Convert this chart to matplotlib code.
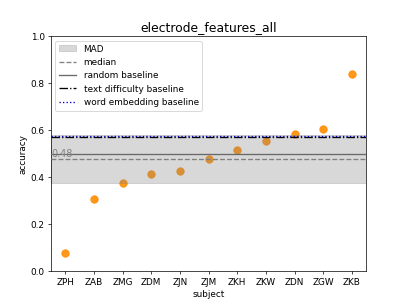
import numpy as np
import matplotlib
matplotlib.use('Agg')
from matplotlib import pyplot as plt

subjects = ['ZPH', 'ZAB', 'ZMG', 'ZDM', 'ZJN', 'ZJM', 'ZKH', 'ZKW', 'ZDN', 'ZGW', 'ZKB']
accuracy = [0.077, 0.308, 0.376, 0.416, 0.427, 0.478, 0.515, 0.556, 0.583, 0.606, 0.838]

random_baseline = 0.5
text_difficulty_baseline = 0.572
word_embedding_baseline = 0.578

acc = np.array(accuracy)
median = np.median(acc)
mad = np.median(np.abs(acc - median))

fig = plt.figure(figsize=(6.4, 4.8), dpi=407 / 6.4)
ax = fig.add_subplot(111)

x = np.arange(len(subjects))
ax.scatter(x, acc, s=70, color='darkorange', alpha=0.9, zorder=1)
ax.axhspan(median - mad, median + mad, color='gray', alpha=0.3, label='MAD', zorder=2)
ax.axhline(median, color='gray', linestyle='--', label='median', zorder=3)
ax.axhline(random_baseline, color='dimgray', linestyle='-', label='random baseline', zorder=3)
ax.axhline(text_difficulty_baseline, color='black', linestyle='-.', label='text difficulty baseline', zorder=3)
ax.axhline(word_embedding_baseline, color='mediumblue', linestyle=':', label='word embedding baseline', zorder=3)
ax.text(-0.5, median + 0.01, '%.2f' % median, color='gray', fontsize=11, zorder=4)

ax.set_xticks(x)
ax.set_xticklabels(subjects)
ax.set_xlim(-0.5, len(subjects) - 0.5)
ax.set_ylim(0, 1.0)
ax.set_xlabel('subject')
ax.set_ylabel('accuracy')
ax.set_title('electrode_features_all', fontsize=14)
ax.legend(loc='upper left')

plt.savefig('out.png')
